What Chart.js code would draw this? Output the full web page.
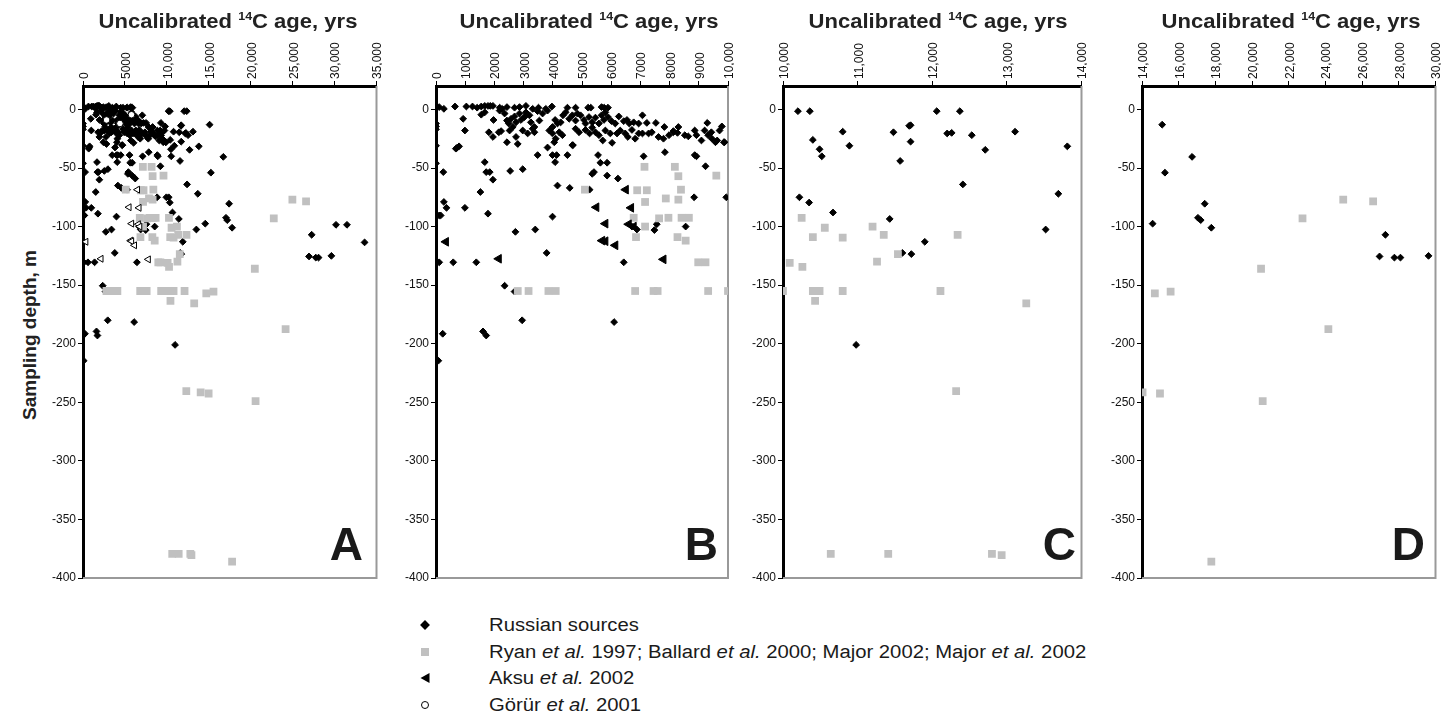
<!DOCTYPE html>
<html>
<head>
<meta charset="utf-8">
<script src="https://cdn.jsdelivr.net/npm/chart.js@4.4.0/dist/chart.umd.min.js"></script>
<style>
  body { margin:0; width:1448px; height:718px; background:#fff; position:relative; overflow:hidden;
         font-family:"Liberation Sans", Arial, sans-serif; color:#1a1a1a; }
  canvas { position:absolute; }
  .title { position:absolute; top:11px; font-weight:bold; font-size:19.5px; line-height:20px;
           white-space:nowrap; transform:translateX(-50%) scaleX(1.13); color:#222; }
  .title sup { font-size:11px; line-height:0; position:relative; top:-1px; }
  .ytitle { position:absolute; left:30px; top:335px; transform:translate(-50%,-50%) rotate(-90deg);
            font-weight:bold; font-size:19px; white-space:nowrap; color:#222; }
  .letter { position:absolute; top:521px; font-weight:bold; font-size:46px; line-height:46px;
            transform:translateX(-100%); color:#1a1a1a; }
  .lrow { position:absolute; left:489px; font-size:18px; line-height:20px; white-space:nowrap;
          transform-origin:0 50%; transform:translateY(-50%) scaleX(1.126); }
  .mk { position:absolute; transform:translate(-50%,-50%); }
  .mk.diamond { width:7px; height:7px; background:#000; transform:translate(-50%,-50%) rotate(45deg); }
  .mk.square { width:8px; height:8px; background:#c0c0c0; }
  .mk.tri { width:0; height:0; border-top:5px solid transparent; border-bottom:5px solid transparent; border-right:9px solid #000; }
  .mk.circ { width:6px; height:6px; border:1.5px solid #000; border-radius:50%; background:#fff; }
</style>
</head>
<body>
<div class="ytitle">Sampling depth, m</div>
<script>
// ages (uncalibrated 14C yrs) and sampling depths (m)
const russian = [
  [110,2],[270,0.5],[650,2.5],[1040,2.5],[1250,2.5],[1410,1.5],[1550,2.5],[1670,3],[1780,3],[1860,3],
  [1950,3],[2180,1.5],[2270,0.5],[2430,2],[2690,1.5],[2860,2],[3080,3],[3310,0.5],[3510,1.5],[3760,0.5],
  [3970,2.5],[4500,1.5],[4780,1.5],[5210,1.5],[5300,1.5],[5670,2],[5760,1.5],[5890,1.5],
  [930,-8],[990,-18],[1550,-4.5],[1670,-2.5],[1970,-9],[2180,-1],[2350,-3.5],[2430,-9.5],[2490,-12],[2570,-8],
  [2690,-6],[2740,-11],[2860,-3.5],[2910,-9],[3030,-6.5],[3080,-2.5],[3200,-5],[3250,-11],[3370,-15],[3480,-1.5],
  [3540,-9.5],[3650,-3.5],[3820,-1],[3990,-15],[4080,-9],[4160,-12],[4270,-11],[4350,-5],[4440,-2.5],[4560,-8],
  [4670,-5],[4780,-9.5],[4840,-3.5],[4950,-5],[5070,-9],[5120,-12],[5240,-6.5],[5350,-11],[5460,-7],[5580,-12],
  [5670,-5],[5750,-9],[5800,-2.5],[5890,-6.5],[6010,-10],[6140,-12],[6260,-6],[6430,-10],[6540,-9],[6620,-12],
  [6770,-11],[6940,-12],[7070,-5],[7220,-11.5],[7530,-11.5],[7820,-15],[8130,-18.5],[8300,-15],[8860,-18],[9290,-11.5],
  [9430,-19.5],[9710,-18],[9790,-14.5],[9860,-28],
  [1810,-19.5],[1950,-23.5],[2150,-19.5],[2230,-18.5],[2430,-28],[2520,-18],[2630,-15],[2740,-23.5],[2800,-29.5],[2970,-18],
  [3140,-20.5],[3310,-16.5],[3370,-19.5],[3880,-18],[3990,-20.5],[4050,-28],[4100,-25],[4220,-19.5],[4330,-22],[4670,-30.5],
  [4780,-16.5],[4900,-19.5],[5120,-17.5],[5260,-20.5],[5350,-15.5],[5460,-19.5],[5580,-22],[5710,-26.5],[5800,-18],[5970,-20.5],
  [6030,-28.5],[6200,-20.5],[6310,-18],[6480,-20.5],[6570,-23.5],[6710,-17.5],[6820,-25],[6940,-20.5],[7070,-20.5],[7280,-20.5],
  [7390,-19.5],[7620,-23.5],[7790,-25],[7980,-22],[8130,-19.5],[8270,-20],[8520,-22],[8640,-23],[8920,-22],[9090,-26.5],
  [9200,-18],[9320,-22],[9450,-25],[9570,-28],[9630,-26.5],[9880,-28],[680,-33.5],[730,-32.5],[790,-31.5],
  [0,-12],[0,-14.5],[0,-17],[0,-31],[0,-46],
  [1670,-45],[1720,-53.5],[1840,-53.5],[1950,-60],[2540,-52.5],[2970,-51],[3480,-39],[3820,-32.5],[3990,-39],[4080,-45],
  [4130,-39],[4500,-39],[4690,-30.5],[5350,-55],[5410,-53.5],[5550,-39],[5630,-45.5],[5860,-45.5],[5860,-56.5],[6230,-59],
  [7110,-40],[7840,-36.5],[8860,-39],[8920,-40],[9230,-48.5],[9940,-75],
  [1520,-70.5],[250,-53.5],[270,-79],[360,-84],[990,-84],[4160,-65],[4580,-67],[5260,-68.5],[8840,-75],
  [110,-90.5],[160,-90.5],[1780,-89],[3990,-91.5],[2720,-104.5],[3400,-102.5],[3790,-122.5],[110,-130.5],[590,-130.5],[1380,-130.5],
  [2350,-150.5],[2690,-155.5],[2950,-180],[230,-191.5],[1610,-189.5],[1720,-193],[80,-214.5],[6430,-130.5],[6100,-181.5],
  [6880,-102.5],[7480,-103],[7560,-98],[8550,-100],[6710,-100],
  [10200,-1.5],[10360,-1.5],[10400,-26],[10490,-34],[10520,-40],[10800,-19],[10890,-31],[10220,-75],[10350,-79.5],[10670,-88],
  [11430,-93.5],[11480,-19.5],[11570,-44],[11690,-14],[11710,-13.5],[11710,-27.5],[11900,-113],[12060,-1.5],[12200,-20.5],[12260,-20],
  [12370,-1.5],[12410,-64],[12530,-22],[12710,-34.5],[13110,-19],[13520,-102.5],[13690,-72],[13810,-31.5],[11600,-122.5],[11720,-123.5],
  [10980,-201],
  [15100,-13],[15250,-54],[16730,-40.5],[14580,-97.5],[17050,-92.5],[17200,-94.5],[17420,-80.5],[17780,-101],
  [27270,-107],[26950,-125.5],[27760,-126.5],[28090,-126.5],[29620,-125],[30170,-98.5],[31480,-98.5],[33580,-113.5]
];
const ryan = [
  [5100,-68.5],[6890,-69],[7220,-69],[7140,-49],[7160,-79],[7870,-76],[8180,-49],[8300,-57],[8300,-77],[8390,-68.5],
  [9600,-56.5],[6770,-92.5],[7640,-93],[7960,-92.5],[8410,-92.5],[8660,-92.5],[7160,-100],[6850,-109],[8270,-109],[8550,-112],
  [8980,-130.5],[9230,-130.5],[2800,-155],[3170,-155],[3850,-155],[4100,-155],[6820,-155],[7450,-155],[7590,-155],[9320,-155],
  [10000,-155],
  [10250,-92.5],[10400,-109],[10560,-101],[10800,-109.5],[11200,-100],[11350,-107],[12340,-107],[10090,-131],[10260,-134.5],[11260,-130],
  [11540,-123.5],[10400,-155],[10450,-155],[10490,-155],[10430,-163.5],[10800,-155],[12110,-155],[13260,-165.5],[12320,-240.5],
  [10640,-379.5],[11410,-379.5],[12800,-379.5],[12930,-380.5],
  [20490,-136],[14700,-157],[15560,-155.5],[24160,-187.5],[14030,-241.5],[14980,-242.5],[20580,-249],[17780,-386],
  [22750,-93],[24970,-77],[26600,-78.5]
];
const aksu = [
  [6500,-68.5],[5490,-83.5],[6680,-84],[5800,-97.5],[6600,-98],[6770,-100],[340,-113],[5690,-112],[5800,-112.5],[6140,-116],
  [2150,-127.5],[7790,-128]
];
const gorur = [[2810,-9],[5780,-4.5],[4400,-12]];

const yTicks = [0, -50, -100, -150, -200, -250, -300, -350, -400];
const xTicksA = [0, 5000, 10000, 15000, 20000, 25000, 30000, 35000];
const xTicksB = [0, 1000, 2000, 3000, 4000, 5000, 6000, 7000, 8000, 9000, 10000];
const xTicksC = [10000, 11000, 12000, 13000, 14000];
const xTicksD = [14000, 16000, 18000, 20000, 22000, 24000, 26000, 28000, 30000];
const panelLetters = ['A', 'B', 'C', 'D'];

const panels = [
  { left: 83,   right: 378,  xMin: 0,     xMax: 35000, xTicks: xTicksA, gap: 15, titleX: 228, full: true },
  { left: 436,  right: 730,  xMin: 0,     xMax: 10000, xTicks: xTicksB, gap: 12, titleX: 589 },
  { left: 783,  right: 1083, xMin: 10000, xMax: 14000, xTicks: xTicksC, gap: 7,  titleX: 938 },
  { left: 1142, right: 1437, xMin: 14000, xMax: 30000, xTicks: xTicksD, gap: 12, titleX: 1291 }
];

const FONT = 'Liberation Sans, Arial, sans-serif';
const fmt = v => v < 10000 ? String(v) : v.toLocaleString('en-US');

const frame = {
  id: 'frame',
  beforeDatasetsDraw(chart) {
    const a = chart.chartArea, ctx = chart.ctx;
    ctx.save();
    ctx.strokeStyle = '#999';
    ctx.lineWidth = 2;
    ctx.beginPath();
    ctx.moveTo(a.left, a.bottom); ctx.lineTo(a.right, a.bottom); ctx.lineTo(a.right, a.top);
    ctx.stroke();
    ctx.restore();
  }
};

panels.forEach(function(p, i) {
  const yAxisW = 60, topH = 56;
  const canvas = document.createElement('canvas');
  canvas.width = yAxisW + (p.right - p.left) + 4;
  canvas.height = 560;
  canvas.style.left = (p.left - yAxisW) + 'px';
  canvas.style.top = '30px';
  document.body.appendChild(canvas);

  const pick = pts => pts.filter(d => d[0] >= p.xMin && d[0] <= p.xMax).map(d => ({ x: d[0], y: d[1] }));

  const datasets = [
    { label: 'Russian sources', data: pick(russian), pointStyle: 'rectRot', pointRadius: 3.4,
      backgroundColor: '#000', borderColor: '#000', borderWidth: 1, order: 4 },
    { label: 'Ryan et al. 1997; Ballard et al. 2000; Major 2002; Major et al. 2002', data: pick(ryan),
      pointStyle: 'rect', pointRadius: 5.5, backgroundColor: '#c0c0c0', borderColor: '#c0c0c0', borderWidth: 0, order: 3 },
    { label: 'Aksu et al. 2002', data: pick(aksu), pointStyle: 'triangle', pointRotation: -90,
      pointRadius: p.full ? 4 : 5, backgroundColor: p.full ? '#fff' : '#000', borderColor: '#000', borderWidth: 1, order: 2 }
  ];
  if (p.full) {
    datasets.push({ label: 'Görür et al. 2001', data: pick(gorur), pointStyle: 'circle', pointRadius: 3.3,
      backgroundColor: '#fff', borderColor: '#000', borderWidth: 1, order: 1 });
  }

  new Chart(canvas, {
    type: 'scatter',
    data: { datasets: datasets },
    options: {
      responsive: false,
      devicePixelRatio: 1,
      animation: false,
      events: [],
      layout: { padding: { left: 0, right: 4, top: 0, bottom: 12 } },
      plugins: { legend: { display: false }, tooltip: { enabled: false } },
      scales: {
        x: {
          type: 'linear', position: 'top', min: p.xMin, max: p.xMax,
          afterBuildTicks: ax => { ax.ticks = p.xTicks.map(v => ({ value: v })); },
          afterFit: ax => { ax.height = topH; },
          ticks: { minRotation: 90, maxRotation: 90, autoSkip: false, padding: 2, labelOffset: 16, color: '#111',
                   font: { family: FONT, size: 12 }, callback: v => fmt(v) },
          grid: { drawOnChartArea: false, drawTicks: true, tickLength: 5, tickColor: '#000', tickWidth: 1 },
          border: { display: true, color: '#000', width: 3 }
        },
        y: {
          type: 'linear', position: 'left', min: -400, max: 20,
          afterBuildTicks: ax => { ax.ticks = yTicks.map(v => ({ value: v })); },
          afterFit: ax => { ax.width = yAxisW; },
          ticks: { padding: 2, color: '#111', font: { family: FONT, size: 12 } },
          grid: { drawOnChartArea: false, drawTicks: true, tickLength: 5, tickColor: '#000', tickWidth: 1 },
          border: { display: true, color: '#000', width: 3 }
        }
      }
    },
    plugins: [frame]
  });

  const t = document.createElement('div');
  t.className = 'title';
  t.innerHTML = 'Uncalibrated <sup>14</sup>C age, yrs';
  t.style.left = p.titleX + 'px';
  document.body.appendChild(t);

  const l = document.createElement('div');
  l.className = 'letter';
  l.textContent = panelLetters[i];
  l.style.left = (p.right - p.gap) + 'px';
  document.body.appendChild(l);
});

// legend
const legendItems = [
  { mk: 'diamond', html: 'Russian sources' },
  { mk: 'square',  html: 'Ryan <i>et al.</i> 1997; Ballard <i>et al.</i> 2000; Major 2002; Major <i>et al.</i> 2002' },
  { mk: 'tri',     html: 'Aksu <i>et al.</i> 2002' },
  { mk: 'circ',    html: 'Görür <i>et al.</i> 2001' }
];
legendItems.forEach(function(item, i) {
  const y = 625 + i * 26.7;
  const m = document.createElement('div');
  m.className = 'mk ' + item.mk;
  m.style.left = '425px';
  m.style.top = y + 'px';
  document.body.appendChild(m);
  const r = document.createElement('div');
  r.className = 'lrow';
  r.style.top = y + 'px';
  r.innerHTML = item.html;
  document.body.appendChild(r);
});
</script>
</body>
</html>
